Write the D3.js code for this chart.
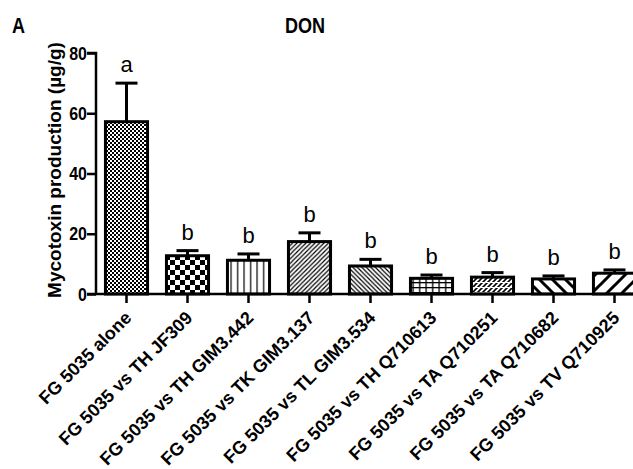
<!DOCTYPE html>
<html lang="en">
<head>
  <meta charset="UTF-8">
  <title>DON</title>
  <style>
    body { margin: 0; background: #fff; }
    text { font-family: "Liberation Sans", Arial, sans-serif; }
  </style>
</head>
<body>
  <svg id="chart"></svg>

  <script src="https://d3js.org/d3.v7.min.js"></script>
  <script>
    const categories = [
      "FG 5035 alone",
      "FG 5035 vs TH JF309",
      "FG 5035 vs TH GIM3.442",
      "FG 5035 vs TK GIM3.137",
      "FG 5035 vs TL GIM3.534",
      "FG 5035 vs TH Q710613",
      "FG 5035 vs TA Q710251",
      "FG 5035 vs TA Q710682",
      "FG 5035 vs TV Q710925"
    ];
    const means = [57.2, 12.7, 11.2, 17.4, 9.3, 5.2, 5.6, 5.0, 6.9];
    const errors = [12.8, 1.7, 2.1, 2.9, 2.2, 1.1, 1.5, 1.0, 1.1];
    const letters = ["a", "b", "b", "b", "b", "b", "b", "b", "b"];
    const yTicks = [0, 20, 40, 60, 80];

    const W = 633, H = 469;
    const svg = d3.select("#chart").attr("width", W).attr("height", H);

    const x = d3.scaleBand()
      .domain(categories)
      .range([96, 645])
      .paddingInner(0.31)
      .paddingOuter(0.155);

    const y = d3.scaleLinear()
      .domain([0, 80])
      .range([294, 53]);

    // fill patterns, one per bar
    const defs = svg.append("defs");
    function pat(id, w, h, draw) {
      const p = defs.append("pattern")
        .attr("id", id)
        .attr("patternUnits", "userSpaceOnUse")
        .attr("width", w).attr("height", h);
      p.append("rect").attr("width", w).attr("height", h).attr("fill", "#fff");
      draw(p);
    }
    pat("p0", 4, 4, p => {
      p.append("rect").attr("width", 2).attr("height", 2).attr("fill", "#000");
      p.append("rect").attr("x", 2).attr("y", 2).attr("width", 2).attr("height", 2).attr("fill", "#000");
    });
    pat("p1", 10, 10, p => {
      p.append("rect").attr("width", 5).attr("height", 5).attr("fill", "#000");
      p.append("rect").attr("x", 5).attr("y", 5).attr("width", 5).attr("height", 5).attr("fill", "#000");
    });
    pat("p2", 6.5, 10, p => {
      p.append("rect").attr("x", 3).attr("width", 1.2).attr("height", 10).attr("fill", "#000");
    });
    function diag(id, size, sw, dir) {
      pat(id, size, size, p => {
        const d = dir > 0
          ? `M0,${size} L${size},0 M${-size / 2},${size / 2} L${size / 2},${-size / 2} M${size / 2},${size * 1.5} L${size * 1.5},${size / 2}`
          : `M0,0 L${size},${size} M${-size / 2},${size / 2} L${size / 2},${size * 1.5} M${size / 2},${-size / 2} L${size * 1.5},${size / 2}`;
        p.append("path").attr("d", d).attr("stroke", "#000").attr("stroke-width", sw);
      });
    }
    diag("p3", 4.5, 1.2, 1);
    diag("p4", 4.5, 1.2, -1);
    pat("p5", 6.5, 5, p => {
      p.append("rect").attr("x", 3).attr("width", 1.3).attr("height", 5).attr("fill", "#000");
      p.append("rect").attr("y", 2).attr("width", 6.5).attr("height", 1.3).attr("fill", "#000");
    });
    pat("p6", 5, 5, p => {
      p.append("path").attr("d", "M0,5 L5,0 M-2.5,2.5 L2.5,-2.5 M2.5,7.5 L7.5,2.5")
        .attr("stroke", "#000").attr("stroke-width", 1.6);
      p.append("rect").attr("y", 2).attr("width", 5).attr("height", 1).attr("fill", "#fff");
    });
    diag("p7", 13, 3, -1);
    diag("p8", 15, 3, 1);

    // bars
    svg.selectAll(".bar")
      .data(means)
      .enter()
      .append("rect")
      .attr("class", "bar")
      .attr("x", (d, i) => x(categories[i]))
      .attr("y", d => y(d))
      .attr("width", x.bandwidth())
      .attr("height", d => y(0) - y(d))
      .attr("fill", (d, i) => `url(#p${i})`)
      .attr("stroke", "#000")
      .attr("stroke-width", 3);

    // error bars (upper only)
    const cx = i => x(categories[i]) + x.bandwidth() / 2;
    const err = svg.append("g").attr("stroke", "#000").attr("stroke-width", 3);
    means.forEach((m, i) => {
      err.append("line")
        .attr("x1", cx(i)).attr("x2", cx(i))
        .attr("y1", y(m)).attr("y2", y(m + errors[i]));
      err.append("line")
        .attr("x1", cx(i) - 11).attr("x2", cx(i) + 11)
        .attr("y1", y(m + errors[i])).attr("y2", y(m + errors[i]));
    });

    // significance letters
    svg.selectAll(".sig")
      .data(letters)
      .enter()
      .append("text")
      .attr("class", "sig")
      .attr("x", (d, i) => cx(i))
      .attr("y", (d, i) => y(means[i] + errors[i]) - 11)
      .attr("text-anchor", "middle")
      .attr("font-size", 22)
      .text(d => d);

    // y axis
    const yAxis = svg.append("g")
      .attr("transform", "translate(96,0)")
      .call(d3.axisLeft(y).tickValues(yTicks).tickSize(9).tickPadding(0));
    yAxis.select(".domain").attr("stroke-width", 2.5).attr("d", "M-9,53H0V294");
    yAxis.selectAll(".tick line").attr("stroke-width", 2.5);
    yAxis.selectAll(".tick text")
      .attr("font-size", 19)
      .attr("font-weight", "bold")
      .attr("fill", "#000")
      .attr("x", null)
      .attr("transform", "translate(-9,0) scale(0.84,1)");

    // x axis
    const xAxis = svg.append("g")
      .attr("transform", "translate(0,294)")
      .call(d3.axisBottom(x).tickSize(9).tickSizeOuter(0));
    xAxis.select(".domain").attr("stroke-width", 2.5).attr("d", "M87,0H633");
    xAxis.selectAll(".tick line").attr("stroke-width", 2.5);
    xAxis.selectAll(".tick text")
      .attr("font-size", 18)
      .attr("font-weight", "bold")
      .attr("fill", "#000")
      .attr("text-anchor", "end")
      .attr("dy", null)
      .attr("y", 0)
      .attr("transform", "translate(6,25) rotate(-45)");

    // titles
    svg.append("text")
      .attr("transform", "translate(305,33) scale(0.82,1)")
      .attr("text-anchor", "middle")
      .attr("font-size", 22)
      .attr("font-weight", "bold")
      .text("DON");
    svg.append("text")
      .attr("transform", "translate(12,33) scale(0.82,1)")
      .attr("font-size", 22)
      .attr("font-weight", "bold")
      .text("A");
    svg.append("text")
      .attr("transform", "translate(61,170) rotate(-90)")
      .attr("text-anchor", "middle")
      .attr("font-size", 19)
      .attr("font-weight", "bold")
      .text("Mycotoxin production (\u00b5g/g)");
  </script>
</body>
</html>
